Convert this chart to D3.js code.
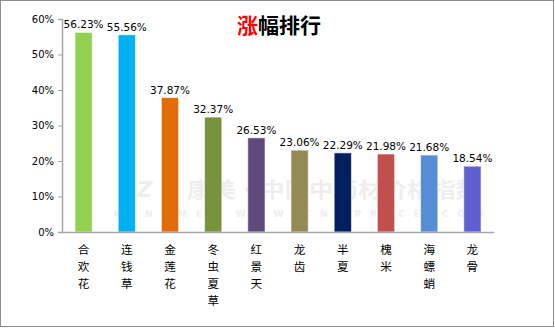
<!DOCTYPE html>
<html><head><meta charset="utf-8">
<script src="https://cdnjs.cloudflare.com/ajax/libs/d3/7.8.5/d3.min.js"></script>
<style>body{margin:0;background:#fff}svg{display:block}</style>
</head><body>
<script>
const categories = ["合欢花","连钱草","金莲花","冬虫夏草","红景天","龙齿","半夏","槐米","海螵蛸","龙骨"];
const values = [56.23,55.56,37.87,32.37,26.53,23.06,22.29,21.98,21.68,18.54];
const colors = ["#92D050","#00B0F0","#E36C09","#77933C","#604A7B","#948A54","#002060","#C0504D","#558ED5","#5F5FCF"];
const yTicks = [0,10,20,30,40,50,60];

const W=555,H=328;
const svg=d3.select("body").append("svg").attr("width",W).attr("height",H);
svg.append("rect").attr("x",0.5).attr("y",0.5).attr("width",W-2).attr("height",H-2).attr("fill","#fff").attr("stroke","#8c8c8c");

const x=d3.scaleBand().domain(categories).range([62,494]).paddingInner(0.6).paddingOuter(0.3);
const y=d3.scaleLinear().domain([0,60]).range([232,19]);

// watermark
const wm=svg.append("g").attr("fill","#eeeeee").attr("font-weight","bold");
wm.append("text").attr("x",187).attr("y",197).attr("font-size",21).attr("font-family","Noto Sans CJK SC")
  .attr("textLength",293).attr("lengthAdjust","spacingAndGlyphs").text("康美·中国中药材价格指数");
wm.append("text").attr("x",113).attr("y",217).attr("font-size",9).attr("font-family","DejaVu Sans")
  .attr("textLength",370).attr("lengthAdjust","spacing").text("KANGMEI WWW.CNMPRICE.COM");
wm.append("text").attr("x",118).attr("y",197).attr("font-size",22).attr("font-family","DejaVu Sans").attr("font-style","italic").text("❮Z");

// title
const t=svg.append("text").attr("x",279).attr("y",33).attr("text-anchor","middle").attr("font-family","Noto Sans CJK SC").attr("font-size",21).attr("font-weight","bold");
t.append("tspan").attr("fill","#ff0000").text("涨");
t.append("tspan").attr("fill","#000").text("幅排行");

// y axis
const ya=svg.append("g").attr("transform","translate(62,0)").call(d3.axisLeft(y).tickValues(yTicks).tickSize(4).tickPadding(4).tickFormat(d=>d+"%"));
ya.select(".domain").attr("stroke","#a6a6a6").attr("stroke-width",1.5);
ya.selectAll(".tick line").attr("stroke","#a6a6a6");
ya.selectAll(".tick text").attr("font-family","DejaVu Sans").attr("font-size",10).attr("fill","#000");

// bars
svg.append("g").selectAll("rect").data(values).join("rect")
 .attr("x",(d,i)=>x(categories[i])).attr("width",x.bandwidth())
 .attr("y",d=>y(d)).attr("height",d=>y(0)-y(d))
 .attr("fill",(d,i)=>colors[i]).attr("stroke","rgba(255,255,255,0.6)").attr("stroke-width",1);

// x axis
const xa=svg.append("g").attr("transform","translate(0,232)").call(d3.axisBottom(x).tickSize(0).tickFormat(""));
xa.select(".domain").attr("stroke","#a6a6a6").attr("stroke-width",1.5);

// value labels
svg.append("g").selectAll("text").data(values).join("text")
 .attr("x",(d,i)=>x(categories[i])+x.bandwidth()/2).attr("y",d=>y(d)-4)
 .attr("text-anchor","middle").attr("font-family","DejaVu Sans").attr("font-size",10.5).attr("fill","#000")
 .text(d=>d.toFixed(2)+"%");

// category labels (vertical, one char per text)
const chars=[];
categories.forEach(c=>[...c].forEach((ch,i)=>chars.push({cat:c,ch,i})));
svg.append("g").selectAll("text").data(chars).join("text")
 .attr("x",d=>x(d.cat)+x.bandwidth()/2).attr("y",d=>254+d.i*17)
 .attr("text-anchor","middle").attr("font-family","Noto Sans CJK SC").attr("font-size",11.6).attr("fill","#000")
 .text(d=>d.ch);
</script>
</body></html>
